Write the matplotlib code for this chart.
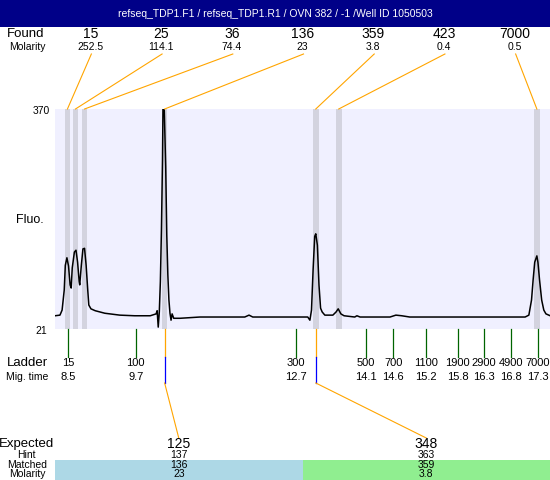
import matplotlib
matplotlib.use("Agg")
import matplotlib.pyplot as plt
from matplotlib.patches import Rectangle
import numpy as np

plt.rcParams['font.family'] = ['Liberation Sans', 'DejaVu Sans']

title = "refseq_TDP1.F1 / refseq_TDP1.R1 / OVN 382 / -1 /Well ID 1050503"

# electropherogram trace (migration time in min, fluorescence)
trace_time = [8.257, 8.35, 8.39, 8.43, 8.45, 8.48, 8.51, 8.54, 8.56, 8.58, 8.62, 8.65,
              8.68, 8.71, 8.72, 8.75, 8.78, 8.81, 8.84, 8.87, 8.89, 8.93, 9.01, 9.19,
              9.47, 9.75, 10.04, 10.15, 10.17, 10.19, 10.21, 10.23, 10.25, 10.27, 10.28,
              10.30, 10.33, 10.35, 10.37, 10.39, 10.41, 10.43, 10.45, 10.48, 10.60, 10.97,
              11.81, 11.89, 11.96, 12.84, 12.99, 13.03, 13.06, 13.09, 13.12, 13.14, 13.17,
              13.20, 13.23, 13.26, 13.31, 13.46, 13.52, 13.56, 13.61, 13.67, 13.87, 13.91,
              13.97, 14.53, 14.64, 14.75, 14.90, 16.96, 17.06, 17.13, 17.18, 17.21, 17.24,
              17.28, 17.30, 17.33, 17.37, 17.41, 17.45, 17.53]
trace_fluo = [42, 43, 51, 83, 122, 134, 121, 91, 86, 118, 143, 146,
              127, 96, 91, 122, 148, 149, 122, 83, 59, 53, 50, 46,
              43, 42, 42, 45, 50, 24, 48, 96, 178, 289, 380,
              380, 278, 170, 107, 67, 46, 35, 45, 38, 38, 40,
              40, 43, 40, 40, 40, 35, 51, 115, 168, 172, 154,
              91, 54, 48, 43, 43, 48, 53, 45, 42, 40, 42,
              40, 40, 43, 42, 40, 40, 40, 43, 67, 99, 127,
              137, 127, 99, 67, 51, 45, 42]

# found peaks
found_time = [8.49, 8.64, 8.81, 10.31, 13.14, 13.57, 17.28]
found_size = ["15", "25", "36", "136", "359", "423", "7000"]
found_molarity = ["252.5", "114.1", "74.4", "23", "3.8", "0.4", "0.5"]

# ladder
ladder_time = [8.5, 9.77, 12.77, 14.08, 14.59, 15.2, 15.8, 16.29, 16.8, 17.3]
ladder_size = ["15", "100", "300", "500", "700", "1100", "1900", "2900", "4900", "7000"]
ladder_mig = ["8.5", "9.7", "12.7", "14.1", "14.6", "15.2", "15.8", "16.3", "16.8", "17.3"]

# expected fragments
expected_size = ["125", "348"]
expected_hint = ["137", "363"]
expected_matched = ["136", "359"]
expected_molarity = ["23", "3.8"]
expected_time = [10.31, 13.14]
expected_colors = ["#ADD8E6", "#90EE90"]

y_min, y_max = 21, 370

fig = plt.figure(figsize=(5.5, 4.8), dpi=100)
ax = fig.add_axes([55 / 550, 151 / 480, 495 / 550, 220 / 480])
ax.set_facecolor("#F0F0FF")
ax.set_xlim(8.257, 17.526)
ax.set_ylim(y_min, y_max)
for s in ax.spines.values():
    s.set_visible(False)
ax.set_xticks([])
ax.set_yticks([])

for t in found_time:
    ax.axvspan(t - 0.052, t + 0.052, color="#D3D3DF", lw=0, zorder=1)
ax.plot(trace_time, trace_fluo, color="black", lw=1.1, zorder=3)

# overlay in pixel units for the annotations
ov = fig.add_axes([0, 0, 1, 1])
ov.set_xlim(0, 550)
ov.set_ylim(480, 0)
ov.axis("off")
ov.set_zorder(5)


def to_px(x, y, tr=None):
    tr = ax.transData if tr is None else tr
    return ov.transData.inverted().transform(tr.transform((x, y)))


top_px = to_px(0, 1, ax.transAxes)[1]
bot_px = to_px(0, 0, ax.transAxes)[1]

ov.add_patch(Rectangle((0, 0), 550, 27, color="#000088", lw=0))
ov.text(275, 14, title, color="white", ha="center", va="center", fontsize=7.5)

# y labels
ov.text(41, top_px + 2, str(y_max), ha="center", va="center", fontsize=7.5)
ov.text(41, bot_px + 2, str(y_min), ha="center", va="center", fontsize=7.5)
ov.text(30, 220, "Fluo.", ha="center", va="center", fontsize=9)

# found row
ov.text(26, 34, "Found", ha="center", va="center", fontsize=9.5)
ov.text(27, 47, "Molarity", ha="center", va="center", fontsize=7.5)
n = len(found_time)
for i, t in enumerate(found_time):
    lx = to_px((i + 0.5) / n, 0, ax.transAxes)[0]
    ov.text(lx, 34, found_size[i], ha="center", va="center", fontsize=10)
    ov.text(lx, 47, found_molarity[i], ha="center", va="center", fontsize=7.5)
    bx = to_px(t, 0)[0]
    ov.plot([lx + 1, bx], [54, top_px], color="orange", lw=0.8)

# ladder
ov.text(27, 363, "Ladder", ha="center", va="center", fontsize=9.5)
ov.text(27, 377, "Mig. time", ha="center", va="center", fontsize=7.5)
for t, s, m in zip(ladder_time, ladder_size, ladder_mig):
    x = to_px(t, 0)[0]
    ov.plot([x, x], [bot_px, 357], color="#006400", lw=0.9)
    ov.text(x, 363, s, ha="center", va="center", fontsize=8)
    ov.text(x, 377, m, ha="center", va="center", fontsize=8)

# expected
ov.text(27, 444, "Expected", ha="center", va="center", fontsize=9.5)
ov.text(26, 455, "Hint", ha="center", va="center", fontsize=7.5)
ov.text(27, 465, "Matched", ha="center", va="center", fontsize=7.5)
ov.text(27, 474, "Molarity", ha="center", va="center", fontsize=7.5)
m = len(expected_time)
for i, t in enumerate(expected_time):
    x0 = to_px(i / m, 0, ax.transAxes)[0]
    x1 = to_px((i + 1) / m, 0, ax.transAxes)[0]
    ov.add_patch(Rectangle((x0, 460), x1 - x0, 20, color=expected_colors[i], lw=0))
    lx = to_px((i + 0.5) / m, 0, ax.transAxes)[0]
    bx = to_px(t, 0)[0]
    ov.plot([bx, bx], [bot_px, 357], color="orange", lw=0.9)
    ov.plot([bx, bx], [357, 383], color="blue", lw=0.9)
    ov.plot([bx, lx], [383, 438], color="orange", lw=0.8)
    ov.text(lx, 444, expected_size[i], ha="center", va="center", fontsize=10)
    ov.text(lx, 455, expected_hint[i], ha="center", va="center", fontsize=7.5)
    ov.text(lx, 465, expected_matched[i], ha="center", va="center", fontsize=7.5)
    ov.text(lx, 474, expected_molarity[i], ha="center", va="center", fontsize=7.5)

fig.savefig("out.png", dpi=100)
